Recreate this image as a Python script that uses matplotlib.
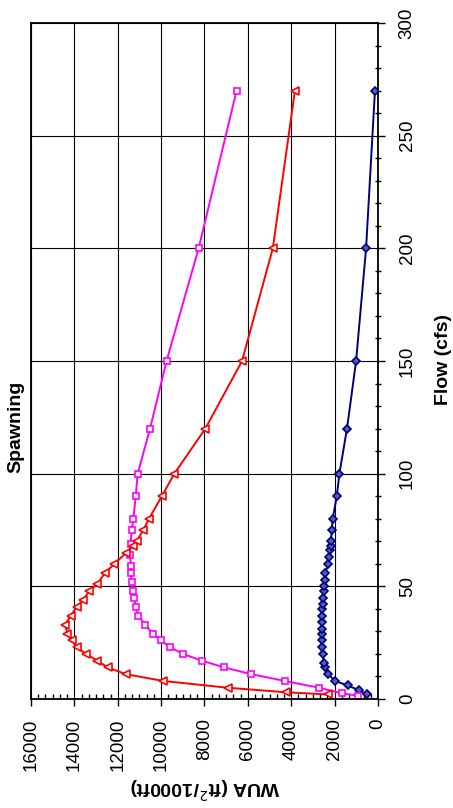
import matplotlib
matplotlib.use("Agg")
import matplotlib.pyplot as plt
from matplotlib.ticker import MultipleLocator

plt.rcParams['font.family'] = ['Liberation Sans', 'DejaVu Sans']

# flow (cfs) and WUA (ft2/1000ft)
flow_blue = [2, 4, 6, 8, 11, 14, 16, 20, 23, 26, 29, 31, 34, 37, 40, 42, 45, 48, 50,
             53, 56, 60, 63, 66, 68, 70, 75, 80, 90, 100, 120, 150, 200, 270]
wua_blue = [490, 890, 1400, 1970, 2300, 2440, 2490, 2550, 2570, 2580, 2600, 2600, 2580,
            2570, 2570, 2550, 2530, 2490, 2470, 2440, 2430, 2290, 2260, 2210, 2180, 2170,
            2130, 2090, 1900, 1780, 1430, 1010, 550, 140]

flow_magenta = [1.5, 2.5, 5, 8, 11, 14, 17, 20, 23, 26, 29, 33, 37, 41, 45, 48, 52, 56,
                59, 64, 69, 75, 80, 90, 100, 120, 150, 200, 270]
wua_magenta = [940, 1650, 2720, 4290, 5840, 7090, 8120, 8990, 9590, 10020, 10390, 10740,
               11050, 11170, 11240, 11280, 11360, 11400, 11400, 11430, 11400, 11360, 11280,
               11170, 11080, 10510, 9750, 8270, 6520]

flow_red = [2, 3, 5, 8, 11, 14, 17, 20, 23, 26, 29, 33, 37, 41, 44, 48, 51, 56, 60, 65,
            68, 70, 75, 80, 90, 100, 120, 150, 200, 270]
wua_red = [2300, 4260, 6930, 9900, 11620, 12460, 12940, 13460, 13890, 14120, 14320, 14430,
           14160, 13890, 13590, 13310, 12940, 12590, 12150, 11600, 11300, 11130, 10820,
           10560, 9970, 9390, 7960, 6270, 4850, 3830]

fig = plt.figure(figsize=(4.53, 8.08), dpi=100)
ax = fig.add_axes([31 / 453, 1 - 699 / 808, 347 / 453, 676 / 808])

# chart is drawn turned on its side: WUA across, flow up
ax.plot(wua_blue, flow_blue, color="#000080", lw=1.4, marker="D", ms=4,
        mfc="#5060b0", mec="#000080", mew=1.2)
ax.plot(wua_magenta, flow_magenta, color="#ff00ff", lw=1.4, marker="s", ms=5,
        mfc="white", mec="#ff00ff", mew=1.2)
ax.plot(wua_red, flow_red, color="#ff0000", lw=1.4, marker="<", ms=5.5,
        mfc="white", mec="#ff0000", mew=1.2)

ax.set_xlim(16000, 0)
ax.set_ylim(0, 300)
ax.xaxis.set_major_locator(MultipleLocator(2000))
ax.xaxis.set_minor_locator(MultipleLocator(2000 / 6))
ax.yaxis.set_major_locator(MultipleLocator(50))
ax.yaxis.set_minor_locator(MultipleLocator(10))
ax.grid(True, which="major", color="black", lw=0.8)

ax.yaxis.tick_right()
ax.tick_params(axis="y", which="major", direction="out", length=5, width=1,
               labelsize=13.5, labelrotation=90, pad=10)
ax.tick_params(axis="y", which="minor", direction="inout", length=4, width=1)
ax.tick_params(axis="x", which="major", direction="out", length=5, width=1,
               labelsize=13.5, labelrotation=90, pad=9)
ax.tick_params(axis="x", which="minor", direction="in", length=3.5, width=1)
for lab in ax.get_yticklabels():
    lab.set_va("center")

for s in ax.spines.values():
    s.set_linewidth(1.3)

fig.text(453 / 453 - 10 / 453, 1 - 360 / 808, "Flow (cfs)", rotation=90,
         ha="center", va="center", fontsize=14, fontweight="bold")
fig.text(16 / 453, 1 - 427 / 808, "Spawning", rotation=90,
         ha="center", va="center", fontsize=14, fontweight="bold")
fig.text(205 / 453, 1 - 788 / 808, "WUA (ft$^2$/1000ft)", rotation=180,
         ha="center", va="center", fontsize=14, fontweight="bold")

fig.savefig("out.png", dpi=100)
